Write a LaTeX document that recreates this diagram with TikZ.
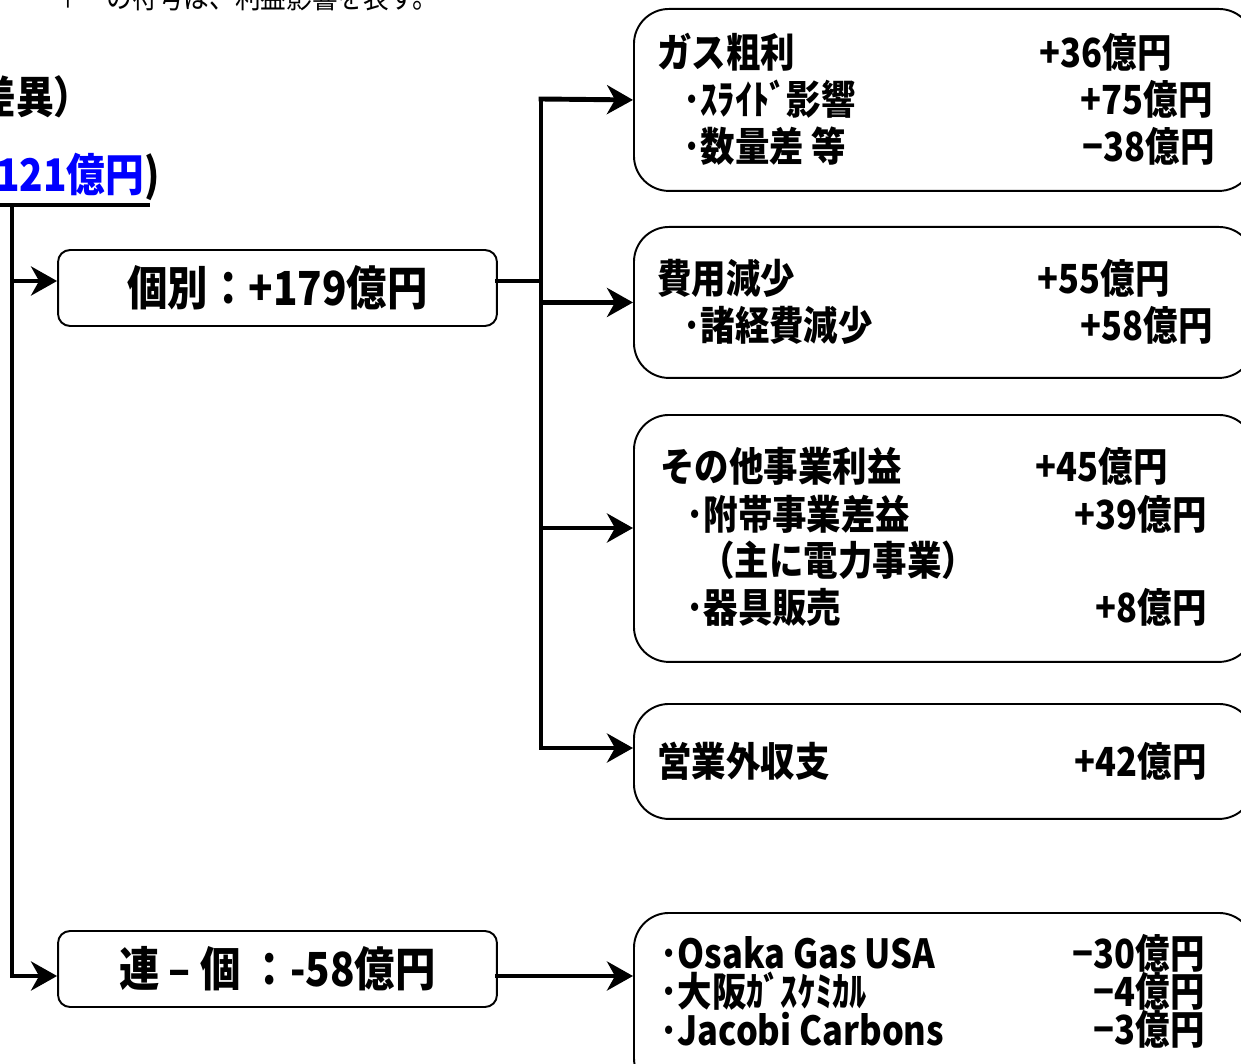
\documentclass[tikz,border=0pt]{standalone}
\usepackage{fontspec}
\setmainfont{Noto Sans CJK JP}[FakeStretch=0.86]
\usetikzlibrary{arrows.meta}

\begin{document}
\begin{tikzpicture}[x=0.02cm,y=-0.02cm,
    box/.style={draw,rounded corners=0.24cm,line width=1.1pt,minimum width=8.78cm,
        minimum height=1.52cm,font=\fontsize{26.7}{30}\selectfont\bfseries},
    bigbox/.style={draw,rounded corners=0.7cm,line width=1.1pt,anchor=north west,
        minimum width=12.4cm},
    item/.style={anchor=west,inner sep=0pt,font=\fontsize{22.8}{26}\selectfont\bfseries},
    val/.style={anchor=east,inner sep=0pt,font=\fontsize{22.8}{26}\selectfont\bfseries},
    link/.style={line width=2.8pt,line cap=rect},
    arr/.style={link,-{Stealth[length=0.52cm,width=0.58cm,inset=0.16cm]}}]
    \clip (0,0) rectangle (1241,1064);
    \fill[white] (0,0) rectangle (1241,1064);
            % headings (cut off by the frame)
            \node[anchor=west,inner sep=0pt,font=\fontsize{17}{20}\selectfont]
                (note) at (55,-3) {＋　の符号は、利益影響を表す。};
            \node[anchor=east,inner sep=0pt,font=\fontsize{25}{28}\selectfont\bfseries]
                (title) at (92,97) {（前年同期差異）};
            \node[anchor=east,inner sep=0pt,font=\fontsize{25.6}{28}\selectfont\bfseries]
                (total) at (160,177) {({\color{blue}+121億円})};
            % boxes
            \node[box] (kobetsu) at (277.5,288) {個別：+179億円};
            \node[box] (renko) at (277.5,969) {連 – 個 ：-58億円};
            \node[bigbox,minimum height=3.64cm] (gas) at (633,8) {};
            \node[bigbox,minimum height=3.02cm] (hiyo) at (633,226) {};
            \node[bigbox,minimum height=4.94cm] (sonota) at (633,414) {};
            \node[bigbox,minimum height=2.3cm] (eigyo) at (633,703) {};
            \node[bigbox,minimum height=3.6cm] (kogaisha) at (633,912) {};
            % box contents
            \node[item] (gas1) at (657,52) {ガス粗利};
            \node[val] (gas1v) at (1172,52) {+36億円};
            \node[item] (gas2) at (683,99) {･ｽﾗｲﾄﾞ影響};
            \node[val] (gas2v) at (1213,99) {+75億円};
            \node[item] (gas3) at (683,146) {･数量差 等};
            \node[val] (gas3v) at (1215,146) {−38億円};
            \node[item] (hiyo1) at (657,278) {費用減少};
            \node[val] (hiyo1v) at (1170,278) {+55億円};
            \node[item] (hiyo2) at (683,325) {･諸経費減少};
            \node[val] (hiyo2v) at (1213,325) {+58億円};
            \node[item] (son1) at (660,466) {その他事業利益};
            \node[val] (son1v) at (1168,466) {+45億円};
            \node[item] (son2) at (686,514) {･附帯事業差益};
            \node[val] (son2v) at (1207,514) {+39億円};
            \node[item] (son3) at (700,560) {（主に電力事業）};
            \node[item] (son4) at (686,607) {･器具販売};
            \node[val] (son4v) at (1207,607) {+8億円};
            \node[item] (eig1) at (657,761) {営業外収支};
            \node[val] (eig1v) at (1207,761) {+42億円};
            \node[item] (ko1) at (660,953) {･Osaka Gas USA};
            \node[val] (ko1v) at (1205,953) {−30億円};
            \node[item] (ko2) at (660,991) {･大阪ｶﾞｽｹﾐｶﾙ};
            \node[val] (ko2v) at (1205,991) {−4億円};
            \node[item] (ko3) at (660,1029) {･Jacobi Carbons};
            \node[val] (ko3v) at (1205,1029) {−3億円};
            % connectors
            \coordinate (lt) at (12,205);
            \coordinate (l1) at (12,281);
            \coordinate (l2) at (12,976);
            \coordinate (rt) at (541,99);
            \coordinate (r1) at (541,281);
            \coordinate (r3) at (541,528);
            \coordinate (rb) at (541,748);
            \draw[link] (-20,205) -- (148,205);
            \draw[link] (lt) -- (l2);
            \draw[arr] (l1) -- (l1 -| kobetsu.west);
            \draw[arr] (l2) -- (l2 -| renko.west);
            \draw[link] (r1 -| kobetsu.east) -- (r1);
            \draw[link] (rt) -- (rb);
            \draw[arr] (rt) -- (gas.west);
            \draw[arr] (hiyo.west -| rt) -- (hiyo.west);
            \draw[arr] (r3) -- (r3 -| sonota.west);
            \draw[arr] (rb) -- (rb -| eigyo.west);
            \draw[arr] (l2 -| renko.east) -- (l2 -| kogaisha.west);
        \end{tikzpicture}
\end{document}
